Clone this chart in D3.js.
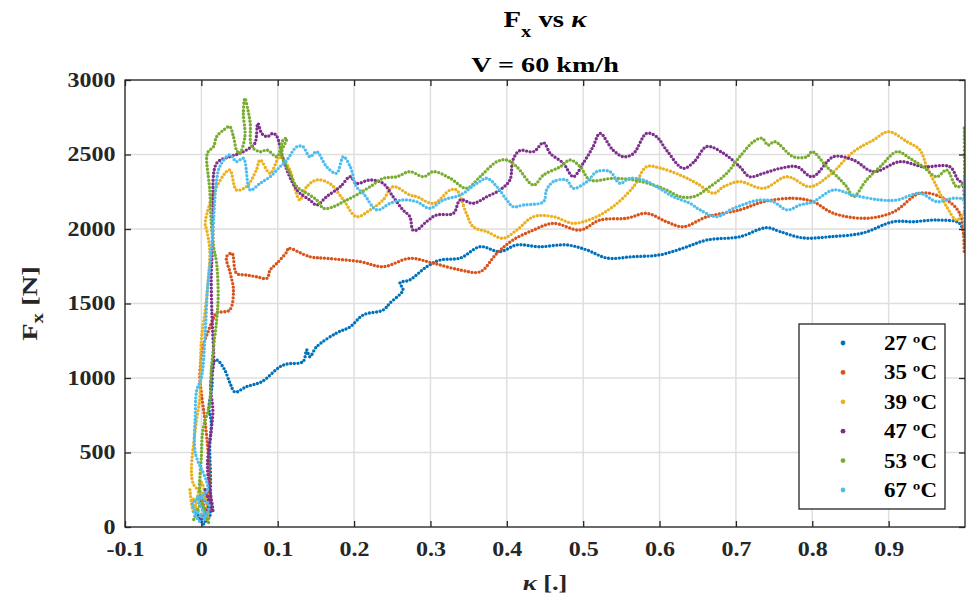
<!DOCTYPE html>
<html>
<head>
<meta charset="utf-8">
<script src="https://cdnjs.cloudflare.com/ajax/libs/d3/7.8.5/d3.min.js"></script>
<style>
  html, body { margin: 0; padding: 0; background: #fff; }
</style>
</head>
<body>
<svg id="chart" width="971" height="607"></svg>
<script>

// tick values
var xTicks = [-0.1, 0, 0.1, 0.2, 0.3, 0.4, 0.5, 0.6, 0.7, 0.8, 0.9];
var yTicks = [0, 500, 1000, 1500, 2000, 2500, 3000];

// legend labels and colours (matlab default order)
var labels = ["27 ºC", "35 ºC", "39 ºC", "47 ºC", "53 ºC", "67 ºC"];
var colors = ["#0072BD", "#D95319", "#EDB120", "#7E2F8E", "#77AC30", "#4DBEEE"];

// [kappa, Fx]
var s27 = [[-0.005,80],[0.003,20],[0.008,150],[-0.002,200],[0.01,60],[0.012,300],[0.011,550],[0.013,700],[0.01,800],
  [0.014,950],[0.015,1100],[0.02,1121],[0.03,1060],[0.0375,966],[0.044,906],[0.059,942],[0.079,975],[0.103,1076],
  [0.112,1094],[0.133,1109],[0.138,1188],[0.142,1143],[0.151,1210],[0.177,1302],[0.195,1344],[0.212,1423],[0.238,1456],
  [0.247,1503],[0.264,1591],[0.26,1638],[0.273,1658],[0.295,1747],[0.313,1792],[0.339,1805],[0.365,1881],[0.391,1848],
  [0.413,1893],[0.443,1881],[0.478,1893],[0.505,1859],[0.531,1805],[0.565,1814],[0.6,1826],[0.631,1872],[0.662,1926],
  [0.705,1948],[0.74,2009],[0.758,1982],[0.788,1940],[0.823,1948],[0.866,1973],[0.906,2049],[0.932,2049],[0.963,2060],
  [0.993,2038],[0.999,1948]];

var s35 = [[0.005,50],[0.012,150],[0.0,200],[0.008,100],[0.01,400],[0.005,700],[0.0,900],[-0.002,1007],[0.002,1208],
  [0.008,1300],[0.015,1389],[0.02,1436],[0.037,1456],[0.042,1590],[0.038,1700],[0.033,1814],[0.04,1837],[0.046,1703],
  [0.059,1691],[0.072,1680],[0.086,1669],[0.09,1725],[0.099,1770],[0.112,1848],[0.114,1870],[0.142,1814],[0.164,1803],
  [0.208,1781],[0.238,1747],[0.273,1803],[0.304,1770],[0.339,1725],[0.365,1713],[0.387,1837],[0.408,1926],[0.435,1993],
  [0.461,2038],[0.496,1993],[0.522,2060],[0.557,2072],[0.583,2105],[0.609,2049],[0.631,2015],[0.662,2082],[0.705,2128],
  [0.736,2183],[0.775,2206],[0.801,2183],[0.828,2105],[0.871,2072],[0.907,2116],[0.941,2240],[0.972,2206],[0.993,2105],
  [0.999,1837]];

var s39 = [[-0.015,250],[-0.01,100],[0.0,300],[0.008,50],[-0.012,180],[0.005,200],[-0.011,295],[-0.008,651],[-0.002,872],
  [0.0,1255],[0.005,1456],[0.009,1658],[0.011,1859],[0.007,1993],[0.005,2038],[0.02,2284],[0.037,2396],[0.046,2262],
  [0.059,2284],[0.072,2396],[0.077,2463],[0.09,2374],[0.103,2485],[0.116,2396],[0.123,2262],[0.129,2195],[0.138,2284],
  [0.151,2329],[0.168,2306],[0.186,2195],[0.203,2083],[0.221,2128],[0.238,2195],[0.251,2284],[0.273,2228],[0.282,2217],
  [0.304,2172],[0.326,2262],[0.334,2262],[0.347,2105],[0.356,2015],[0.374,1982],[0.395,1938],[0.413,1993],[0.435,2083],
  [0.461,2083],[0.487,2038],[0.513,2072],[0.539,2150],[0.566,2284],[0.583,2418],[0.6,2410],[0.627,2362],[0.649,2306],
  [0.671,2240],[0.684,2284],[0.705,2318],[0.736,2273],[0.767,2351],[0.797,2284],[0.823,2362],[0.854,2519],[0.88,2597],
  [0.9,2653],[0.924,2586],[0.941,2530],[0.95,2418],[0.963,2284],[0.976,2150],[0.989,2060],[0.999,2107]];

var s47 = [[0.0,50],[0.01,150],[0.005,250],[0.015,100],[0.008,400],[0.013,651],[0.015,785],[0.012,950],[0.016,1100],
  [0.014,1400],[0.013,1700],[0.015,1926],[0.015,2150],[0.02,2441],[0.037,2485],[0.05,2507],[0.059,2530],[0.07,2575],
  [0.074,2709],[0.079,2642],[0.086,2620],[0.094,2642],[0.099,2620],[0.105,2507],[0.112,2396],[0.12,2306],[0.129,2240],
  [0.142,2195],[0.151,2161],[0.164,2217],[0.182,2284],[0.195,2351],[0.203,2306],[0.221,2329],[0.238,2306],[0.251,2217],
  [0.264,2128],[0.273,2083],[0.277,1993],[0.282,1993],[0.295,2050],[0.308,2094],[0.33,2105],[0.339,2195],[0.356,2172],
  [0.374,2217],[0.391,2262],[0.404,2329],[0.408,2463],[0.417,2526],[0.435,2519],[0.448,2579],[0.457,2507],[0.474,2441],
  [0.487,2351],[0.5,2441],[0.513,2553],[0.522,2642],[0.539,2530],[0.553,2485],[0.566,2507],[0.583,2642],[0.596,2620],
  [0.609,2530],[0.631,2407],[0.645,2450],[0.662,2553],[0.684,2507],[0.705,2418],[0.718,2351],[0.736,2374],[0.758,2407],
  [0.78,2418],[0.8,2351],[0.828,2485],[0.854,2463],[0.88,2385],[0.915,2452],[0.945,2418],[0.98,2418],[0.991,2329],
  [0.997,2306],[0.999,2200]];

var s53 = [[-0.01,50],[0.0,150],[0.01,20],[0.005,100],[-0.002,228],[0.0,472],[0.002,651],[0.011,832],[0.013,1054],
  [0.016,1210],[0.02,1389],[0.022,1546],[0.02,1770],[0.016,1882],[0.013,2038],[0.011,2262],[0.007,2485],[0.009,2519],
  [0.016,2553],[0.02,2620],[0.029,2664],[0.037,2687],[0.042,2620],[0.046,2530],[0.05,2507],[0.057,2620],[0.055,2776],
  [0.057,2877],[0.061,2799],[0.064,2709],[0.066,2553],[0.077,2519],[0.086,2530],[0.099,2485],[0.107,2597],[0.112,2609],
  [0.105,2507],[0.116,2374],[0.125,2284],[0.138,2240],[0.151,2195],[0.16,2139],[0.173,2150],[0.186,2183],[0.203,2228],
  [0.221,2284],[0.238,2340],[0.256,2351],[0.273,2385],[0.291,2351],[0.304,2385],[0.326,2340],[0.347,2273],[0.365,2351],
  [0.387,2452],[0.4,2463],[0.413,2418],[0.435,2295],[0.448,2362],[0.47,2418],[0.483,2463],[0.496,2418],[0.509,2329],
  [0.539,2340],[0.566,2329],[0.592,2295],[0.609,2262],[0.627,2217],[0.645,2217],[0.666,2284],[0.688,2374],[0.705,2485],
  [0.723,2586],[0.734,2609],[0.742,2564],[0.751,2586],[0.775,2485],[0.793,2485],[0.8,2519],[0.819,2418],[0.837,2329],
  [0.845,2284],[0.854,2217],[0.871,2329],[0.889,2418],[0.911,2519],[0.928,2474],[0.945,2418],[0.963,2351],[0.976,2396],
  [0.989,2284],[0.998,2306],[0.999,2687],[0.9995,2250]];

var s67 = [[-0.01,100],[0.0,30],[0.01,150],[-0.005,200],[0.005,60],[-0.012,150],[0.008,250],[-0.008,500],[-0.008,740],
  [-0.006,919],[0.0,1000],[0.005,1300],[0.008,1600],[0.012,1800],[0.015,1993],[0.02,2329],[0.024,2418],[0.037,2497],
  [0.046,2452],[0.055,2474],[0.064,2262],[0.077,2307],[0.09,2351],[0.103,2418],[0.112,2463],[0.125,2552],[0.133,2552],
  [0.142,2485],[0.151,2519],[0.164,2418],[0.177,2374],[0.186,2485],[0.195,2418],[0.203,2284],[0.212,2240],[0.23,2128],
  [0.247,2172],[0.264,2195],[0.282,2183],[0.299,2139],[0.317,2195],[0.339,2228],[0.361,2307],[0.374,2340],[0.387,2284],
  [0.4,2195],[0.408,2150],[0.422,2161],[0.448,2183],[0.452,2262],[0.461,2318],[0.478,2329],[0.487,2273],[0.505,2318],
  [0.518,2385],[0.535,2385],[0.548,2307],[0.561,2340],[0.579,2329],[0.596,2284],[0.618,2217],[0.64,2172],[0.653,2128],
  [0.675,2083],[0.697,2139],[0.732,2195],[0.749,2183],[0.767,2128],[0.784,2161],[0.801,2183],[0.828,2262],[0.854,2228],
  [0.889,2195],[0.911,2195],[0.941,2240],[0.963,2183],[0.985,2206],[0.998,2195],[0.999,1990],[0.9995,2340],[0.9995,2150]];

var series = [s27, s35, s39, s47, s53, s67];

var font = "'Liberation Serif', 'Times New Roman', serif";
var margin = {top: 80, right: 6, bottom: 80, left: 125};
var W = 971, H = 607;
var width = W - margin.left - margin.right,
    height = H - margin.top - margin.bottom;

var svg = d3.select("#chart");

var x = d3.scaleLinear().domain([-0.1, 1.0]).range([0, width]);
var y = d3.scaleLinear().domain([0, 3000]).range([height, 0]);

var g = svg.append("g")
    .attr("transform", "translate(" + margin.left + "," + margin.top + ")");

// grid
g.append("g").selectAll("line")
    .data(xTicks)
  .enter().append("line")
    .attr("x1", function(d) { return x(d); })
    .attr("x2", function(d) { return x(d); })
    .attr("y1", 0).attr("y2", height)
    .attr("stroke", "#dfdfdf").attr("stroke-width", 1.5);

g.append("g").selectAll("line")
    .data(yTicks)
  .enter().append("line")
    .attr("y1", function(d) { return y(d); })
    .attr("y2", function(d) { return y(d); })
    .attr("x1", 0).attr("x2", width)
    .attr("stroke", "#dfdfdf").attr("stroke-width", 1.5);

// data as dense dots
g.append("clipPath").attr("id", "clip")
  .append("rect").attr("width", width).attr("height", height);

var line = d3.line()
    .x(function(d) { return x(d[0]); })
    .y(function(d) { return y(d[1]); })
    .curve(d3.curveCatmullRom.alpha(0.5));

g.append("g").attr("clip-path", "url(#clip)")
  .selectAll("path")
    .data(series)
  .enter().append("path")
    .attr("d", line)
    .attr("fill", "none")
    .attr("stroke", function(d, i) { return colors[i]; })
    .attr("stroke-width", 3.4)
    .attr("stroke-linecap", "round")
    .attr("stroke-dasharray", "0 3.6");

// axes, ticks pointing inward
function styleAxis(sel, sx) {
  sel.select(".domain").remove();
  sel.selectAll(".tick line").attr("stroke", "#262626").attr("stroke-width", 1.3);
  sel.selectAll("text")
      .attr("font-family", font)
      .attr("font-weight", "bold")
      .attr("font-size", 20)
      .attr("fill", "#262626")
      .attr("transform", "scale(" + sx + ",1)");
}

// plain labels: "-0.1", "3000"
var plain = function(d) { return String(+d.toFixed(1)); };

g.append("g")
    .attr("transform", "translate(0," + height + ")")
    .call(d3.axisBottom(x).tickValues(xTicks).tickSizeInner(-6).tickSizeOuter(0).tickPadding(15).tickFormat(plain))
    .call(styleAxis, 1.2);

g.append("g")
    .call(d3.axisTop(x).tickValues(xTicks).tickSizeInner(-6).tickSizeOuter(0).tickFormat(""))
    .call(styleAxis, 1);

g.append("g")
    .call(d3.axisLeft(y).tickValues(yTicks).tickSizeInner(-6).tickSizeOuter(0).tickPadding(8).tickFormat(plain))
    .call(styleAxis, 1.2);

g.append("g")
    .attr("transform", "translate(" + width + ",0)")
    .call(d3.axisRight(y).tickValues(yTicks).tickSizeInner(-6).tickSizeOuter(0).tickFormat(""))
    .call(styleAxis, 1);

// box
g.append("rect")
    .attr("width", width).attr("height", height)
    .attr("fill", "none").attr("stroke", "#262626").attr("stroke-width", 1.3);

// titles
var t1 = svg.append("text")
    .attr("transform", "translate(" + (margin.left + width / 2) + ",27) scale(1.2,1)")
    .attr("text-anchor", "middle")
    .attr("font-family", font).attr("font-weight", "bold").attr("font-size", 24)
    .attr("fill", "#000");
t1.append("tspan").text("F");
t1.append("tspan").attr("font-size", 17).attr("dy", 10).text("x");
t1.append("tspan").attr("dy", -10).text(" vs ");
t1.append("tspan").attr("font-style", "italic").text("κ");

svg.append("text")
    .attr("transform", "translate(" + (margin.left + width / 2) + ",72) scale(1.28,1)")
    .attr("text-anchor", "middle")
    .attr("font-family", font).attr("font-weight", "bold").attr("font-size", 22)
    .attr("fill", "#000")
    .text("V = 60 km/h");

// axis labels
var xl = svg.append("text")
    .attr("transform", "translate(" + (margin.left + width / 2) + ",590) scale(1.2,1)")
    .attr("text-anchor", "middle")
    .attr("font-family", font).attr("font-weight", "bold").attr("font-size", 22)
    .attr("fill", "#262626");
xl.append("tspan").attr("font-style", "italic").text("κ");
xl.append("tspan").text(" [.]");

var yl = svg.append("text")
    .attr("transform", "translate(37," + (margin.top + height / 2) + ") rotate(-90) scale(1.3,1)")
    .attr("text-anchor", "middle")
    .attr("font-family", font).attr("font-weight", "bold").attr("font-size", 22)
    .attr("fill", "#262626");
yl.append("tspan").text("F");
yl.append("tspan").attr("font-size", 16).attr("dy", 6).text("x");
yl.append("tspan").attr("dy", -6).text(" [N]");

// legend
var leg = svg.append("g").attr("transform", "translate(799,324)");
leg.append("rect")
    .attr("width", 146).attr("height", 185)
    .attr("fill", "#fff").attr("stroke", "#262626").attr("stroke-width", 1.3);

var item = leg.selectAll(".item")
    .data(labels)
  .enter().append("g")
    .attr("class", "item")
    .attr("transform", function(d, i) { return "translate(0," + (19 + i * 29.4) + ")"; });

item.append("circle")
    .attr("cx", 44).attr("cy", 0).attr("r", 2.4)
    .attr("fill", function(d, i) { return colors[i]; });

item.append("text")
    .attr("transform", "translate(138,7) scale(1.15,1)")
    .attr("text-anchor", "end")
    .attr("font-family", font).attr("font-weight", "bold").attr("font-size", 20)
    .attr("fill", "#000")
    .text(function(d) { return d; });

</script>
</body>
</html>
